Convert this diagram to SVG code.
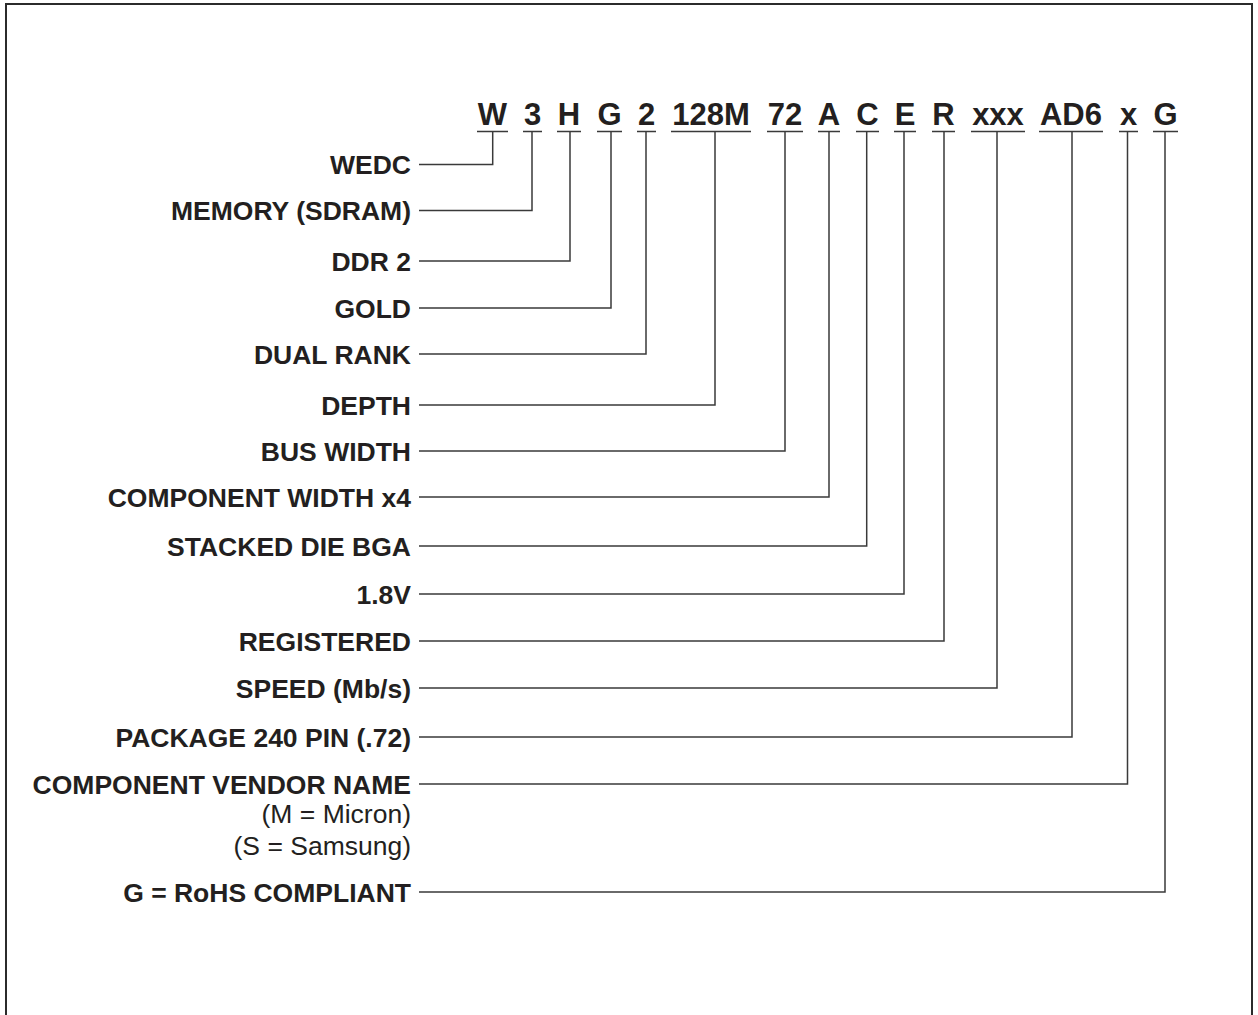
<svg xmlns="http://www.w3.org/2000/svg" width="1258" height="1015" viewBox="0 0 1258 1015">
<style>
.code{font-family:"Liberation Sans",Arial,sans-serif;font-weight:bold;font-size:31px;fill:#231f20;text-anchor:middle}
.lbl{font-family:"Liberation Sans",Arial,sans-serif;font-weight:bold;font-size:26.5px;fill:#231f20;text-anchor:end}
.sub{font-family:"Liberation Sans",Arial,sans-serif;font-size:26.5px;fill:#231f20;text-anchor:end}
.ln{fill:none;stroke:#3a3a3a;stroke-width:1.5}
</style>
<rect width="1258" height="1015" fill="#fff"/>
<path d="M6,1015 V4 H1252 V1015" fill="none" stroke="#2b2b2b" stroke-width="2"/>
<g id="code">
<text class="code" x="492.5" y="125">W</text>
<text class="code" x="532.5" y="125">3</text>
<text class="code" x="569" y="125">H</text>
<text class="code" x="609.5" y="125">G</text>
<text class="code" x="646.5" y="125">2</text>
<text class="code" x="711" y="125">128M</text>
<text class="code" x="785" y="125">72</text>
<text class="code" x="829" y="125">A</text>
<text class="code" x="867.5" y="125">C</text>
<text class="code" x="905" y="125">E</text>
<text class="code" x="943.5" y="125">R</text>
<text class="code" x="998" y="125">xxx</text>
<text class="code" x="1071" y="125">AD6</text>
<text class="code" x="1128.5" y="125">x</text>
<text class="code" x="1165.5" y="125">G</text>
</g>
<g id="n-wedc"><text class="lbl" x="411" y="174">WEDC</text></g>
<g id="n-memory"><text class="lbl" x="411" y="220">MEMORY (SDRAM)</text></g>
<g id="n-ddr2"><text class="lbl" x="411" y="270.5">DDR 2</text></g>
<g id="n-gold"><text class="lbl" x="411" y="317.5">GOLD</text></g>
<g id="n-dual"><text class="lbl" x="411" y="363.5">DUAL RANK</text></g>
<g id="n-depth"><text class="lbl" x="411" y="414.5">DEPTH</text></g>
<g id="n-bus"><text class="lbl" x="411" y="460.5">BUS WIDTH</text></g>
<g id="n-compw"><text class="lbl" x="411" y="506.5">COMPONENT WIDTH x4</text></g>
<g id="n-stacked"><text class="lbl" x="411" y="555.5">STACKED DIE BGA</text></g>
<g id="n-volt"><text class="lbl" x="411" y="603.5">1.8V</text></g>
<g id="n-reg"><text class="lbl" x="411" y="650.5">REGISTERED</text></g>
<g id="n-speed"><text class="lbl" x="411" y="697.5">SPEED (Mb/s)</text></g>
<g id="n-pkg"><text class="lbl" x="411" y="746.5">PACKAGE 240 PIN (.72)</text></g>
<g id="n-vendor"><text class="lbl" x="411" y="793.5">COMPONENT VENDOR NAME</text>
<text class="sub" x="411" y="823">(M = Micron)</text>
<text class="sub" x="411" y="855">(S = Samsung)</text></g>
<g id="n-rohs"><text class="lbl" x="411" y="901.5">G = RoHS COMPLIANT</text></g>
<g id="connectors" class="ln">
<path d="M477,131.5H508 M523,131.5H542 M557,131.5H581 M597,131.5H622 M637,131.5H656 M671,131.5H751 M767,131.5H803 M818,131.5H840 M856,131.5H879 M894,131.5H916 M932,131.5H955 M971,131.5H1025 M1039,131.5H1103 M1119,131.5H1138 M1153,131.5H1178"/>
<path d="M419,164.5H492.7V131.5"/>
<path d="M419,210.5H532V131.5"/>
<path d="M419,261H570V131.5"/>
<path d="M419,308H611V131.5"/>
<path d="M419,354H646V131.5"/>
<path d="M419,405H715V131.5"/>
<path d="M419,451H785V131.5"/>
<path d="M419,497H829V131.5"/>
<path d="M419,546H866.7V131.5"/>
<path d="M419,594H904V131.5"/>
<path d="M419,641H944V131.5"/>
<path d="M419,688H997V131.5"/>
<path d="M419,737H1072V131.5"/>
<path d="M419,784H1127.5V131.5"/>
<path d="M419,892H1165V131.5"/>
</g>
</svg>
